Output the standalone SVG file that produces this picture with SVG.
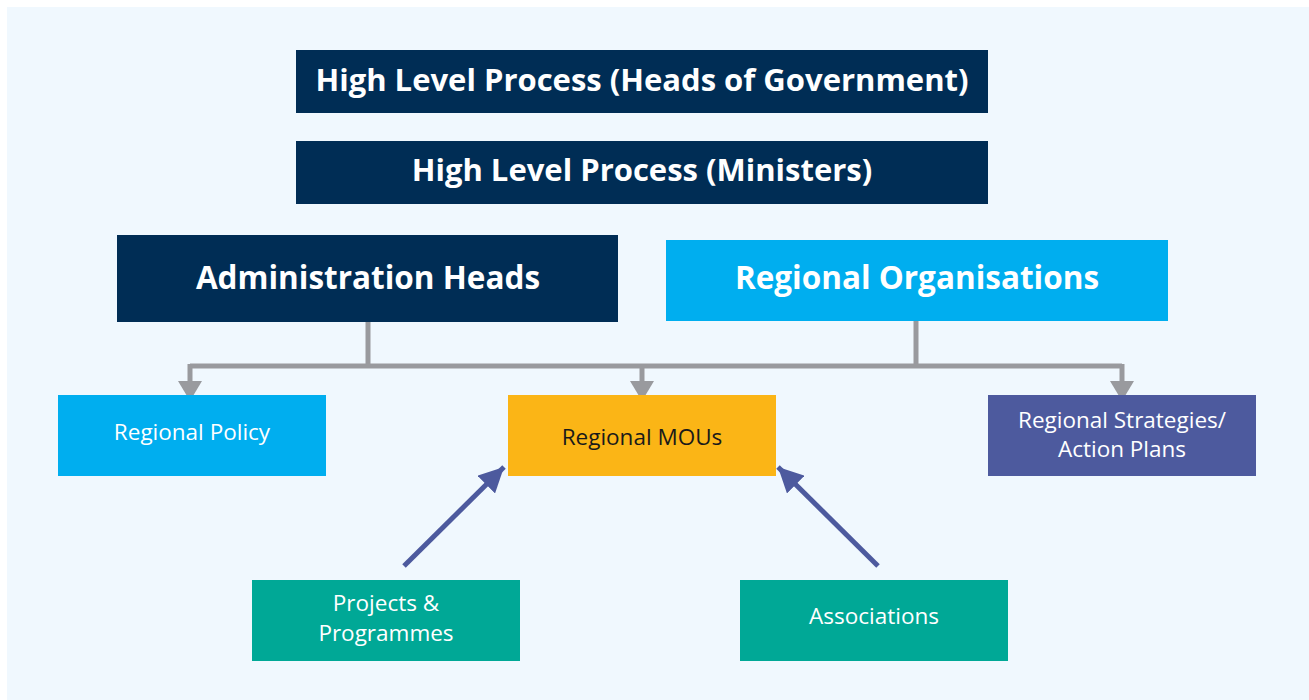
<svg xmlns="http://www.w3.org/2000/svg" width="1309" height="700" viewBox="0 0 1309 700">
<defs>
<style>
.t{font-family:"Open Sans","Noto Sans","Liberation Sans",sans-serif;fill:#fff;text-anchor:middle;dominant-baseline:central}
.b{font-weight:700}
.s{font-size:22.5px}
.navy{fill:#002d55}
.cyan{fill:#00aeef}
.gray{stroke:#999a9e;stroke-width:5;fill:none}
.gh{fill:#999a9e}
.blue{stroke:#4d5a9e;stroke-width:5;fill:none}
</style>
<marker id="ab" viewBox="0 0 10 10" refX="10" refY="5" markerWidth="5" markerHeight="5" markerUnits="strokeWidth" orient="auto">
<path d="M0,0 L10,5 L0,10 Z" fill="#4d5a9e"/>
</marker>
</defs>
<rect x="0" y="0" width="1309" height="700" fill="#ffffff"/>
<rect x="7" y="7" width="1302" height="693" fill="#f0f8fe"/>
<g id="connectors">
<path class="gray" d="M368,322 V366 M916,321 V366 M190,366 H1122 M190,364 V384 M642,364 V384 M1122,364 V384"/>
<polygon class="gh" points="178,381 202,381 190,401"/>
<polygon class="gh" points="630,381 654,381 642,401"/>
<polygon class="gh" points="1110,381 1134,381 1122,401"/>
<path class="blue" d="M404,566 L504,467" marker-end="url(#ab)"/>
<path class="blue" d="M878,566 L778,467" marker-end="url(#ab)"/>
</g>
<g id="hlp-heads"><rect x="296" y="50" width="692" height="63" class="navy"/><text class="t b" x="642" y="79" font-size="31">High Level Process (Heads of Government)</text></g>
<g id="hlp-ministers"><rect x="296" y="141" width="692" height="63" class="navy"/><text class="t b" x="642" y="169" font-size="31">High Level Process (Ministers)</text></g>
<g id="admin-heads"><rect x="117" y="235" width="501" height="87" class="navy"/><text class="t b" x="368" y="276" font-size="31.5">Administration Heads</text></g>
<g id="regional-orgs"><rect x="666" y="240" width="502" height="81" class="cyan"/><text class="t b" x="917" y="276" font-size="31.5">Regional Organisations</text></g>
<g id="regional-policy"><rect x="58" y="395" width="268" height="81" class="cyan"/><text class="t s" x="192" y="431">Regional Policy</text></g>
<g id="regional-mous"><rect x="508" y="395" width="268" height="81" fill="#fbb516"/><text class="t s" x="642" y="436" style="fill:#1a1a1a">Regional MOUs</text></g>
<g id="regional-strategies"><rect x="988" y="395" width="268" height="81" fill="#4d5a9e"/><text class="t s" x="1122" y="419">Regional Strategies/</text><text class="t s" x="1122" y="448">Action Plans</text></g>
<g id="projects"><rect x="252" y="580" width="268" height="81" fill="#00a896"/><text class="t s" x="386" y="602">Projects &amp;</text><text class="t s" x="386" y="632">Programmes</text></g>
<g id="associations"><rect x="740" y="580" width="268" height="81" fill="#00a896"/><text class="t s" x="874" y="615">Associations</text></g>
</svg>
